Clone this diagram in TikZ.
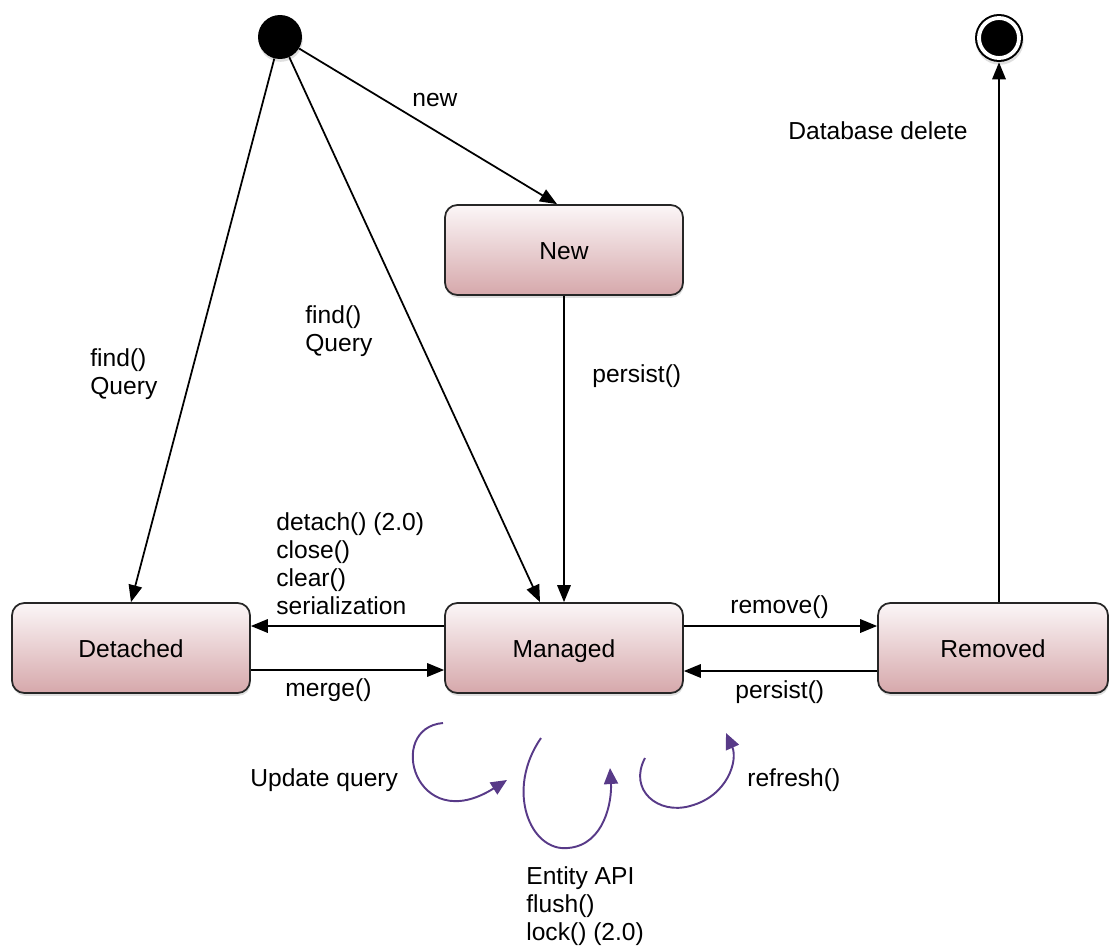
\documentclass[tikz,border=0pt]{standalone}
\usepackage{fontspec}
\setmainfont{Liberation Sans}
\usepackage{xcolor}
\usetikzlibrary{arrows.meta, shadows}

\definecolor{boxtop}{RGB}{251,246,247}
\definecolor{boxbottom}{RGB}{214,168,171}
\definecolor{loopviolet}{RGB}{88,58,136}

\tikzset{
    state/.style={draw=black!85, line width=1pt, rounded corners=7pt,
        top color=boxtop, bottom color=boxbottom,
        minimum width=4.76cm, minimum height=1.8cm,
        text height=2.3ex, text depth=0.2ex,
        drop shadow={opacity=0.25, shadow xshift=0.4pt, shadow yshift=-1.6pt}},
    arr/.style={-{Triangle[length=3.4mm, width=2.7mm]}, line width=1pt},
    loop/.style={-{Triangle[length=3.2mm, width=2.8mm]}, draw=loopviolet, line width=1.1pt},
    lbl/.style={align=left, anchor=west, inner sep=0pt}
}

\begin{document}
\begin{tikzpicture}[x=0.02cm, y=-0.02cm, font=\fontsize{14pt}{15.9pt}\selectfont]
    \useasboundingbox (0,0) rectangle (1109,950);

    \node[circle, fill=black, minimum size=0.88cm, inner sep=0pt,
          drop shadow={opacity=0.25, shadow xshift=0.4pt, shadow yshift=-1.6pt}] (start) at (280,37) {};
    \node[circle, fill=black, minimum size=0.96cm, inner sep=0pt,
          drop shadow={opacity=0.25, shadow xshift=0.4pt, shadow yshift=-1.6pt}] (end) at (999,38) {};
    \node[circle, fill=black, draw=white, line width=2.2pt, minimum size=0.8cm] at (end) {};

    \node[state] (new) at (564,250) {New};
    \node[state] (detached) at (131,648) {Detached};
    \node[state] (managed) at (564,648) {Managed};
    \node[state, minimum width=4.6cm] (removed) at (993,648) {Removed};

    \coordinate (uq1) at (443,723);
    \coordinate (uq2) at (507,780);
    \coordinate (api1) at (541,738);
    \coordinate (api2) at (610,768);
    \coordinate (rf1) at (645,758);
    \coordinate (rf2) at (726,733);

    \draw[arr] (start) -- ([xshift=-0.14cm]new.north);
    \draw[arr] (start) -- (detached.north);
    \draw[arr] (start) -- ([xshift=-0.48cm]managed.north);
    \draw[arr] (new.south) -- (managed.north);
    \draw[arr] ([yshift=0.44cm]managed.west) -- ([yshift=0.44cm]detached.east);
    \draw[arr] ([yshift=-0.44cm]detached.east) -- ([yshift=-0.44cm]managed.west);
    \draw[arr] ([yshift=0.44cm]managed.east) -- ([yshift=0.44cm]removed.west);
    \draw[arr] ([yshift=-0.46cm]removed.west) -- ([yshift=-0.46cm]managed.east);
    \draw[arr] (end |- removed.north) -- (end);

    \draw[loop] (uq1) .. controls (385,728) and (415,838) .. (uq2);
    \draw[loop] (api1) .. controls (505,790) and (530,852) .. (568,848)
        .. controls (605,845) and (612,800) .. (api2);
    \draw[loop] (rf1) .. controls (628,790) and (658,815) .. (690,806)
        .. controls (728,796) and (738,760) .. (rf2);

    \node[lbl] (lnew) at (412,100) {new};
    \node[lbl] (lfind1) at (90,374) {find()\\Query};
    \node[lbl] (lfind2) at (305,331) {find()\\Query};
    \node[lbl] (lpersist1) at (592,376) {persist()};
    \node[lbl] (ldetach) at (276,564) {detach() (2.0)\\close()\\clear()\\serialization};
    \node[lbl] (lmerge) at (285,690) {merge()};
    \node[lbl] (lremove) at (730,607) {remove()};
    \node[lbl] (lpersist2) at (735,692) {persist()};
    \node[lbl] (ldelete) at (788,131) {Database delete};
    \node[lbl] (lupdate) at (250,780) {Update query};
    \node[lbl] (lrefresh) at (747,780) {refresh()};
    \node[lbl] (lapi) at (526,906) {Entity API\\flush()\\lock() (2.0)};
\end{tikzpicture}
\end{document}
